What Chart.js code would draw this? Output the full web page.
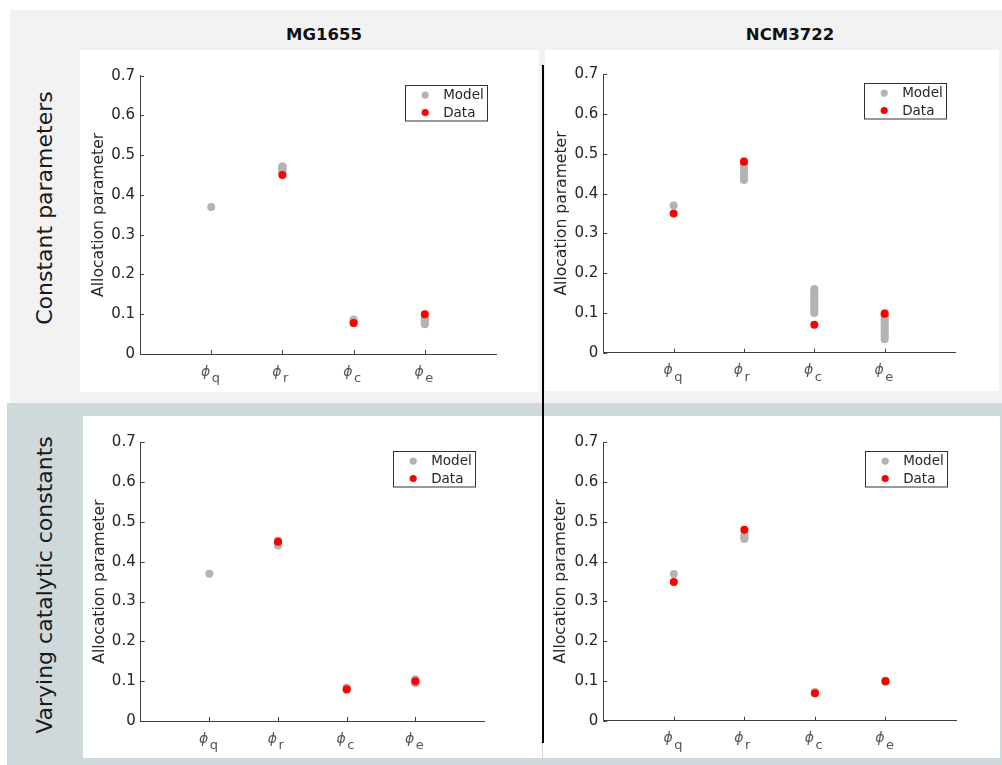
<!DOCTYPE html>
<html>
<head>
<meta charset="utf-8">
<script src="https://cdn.jsdelivr.net/npm/chart.js@4.4.0/dist/chart.umd.min.js"></script>
<style>
  body { margin: 0; width: 1002px; height: 765px; position: relative; overflow: hidden; background: #fff; font-family: 'DejaVu Sans', sans-serif; }
  .abs { position: absolute; }
  .band-top { left: 10px; top: 10px; width: 992px; height: 393px; background: #f2f2f2; }
  .band-bottom { left: 7px; top: 403px; width: 995px; height: 362px; background: #cfd9dc; }
  canvas { position: absolute; background: #fff; }
  .head { width: 200px; text-align: center; font-weight: bold; font-size: 16.5px; line-height: 1; color: #111; }
  .rowlab { width: 400px; height: 30px; line-height: 30px; text-align: center; font-size: 22px; color: #1a1a1a; transform: rotate(-90deg); }
  .divider { left: 541.5px; top: 65px; width: 2px; height: 678px; background: #000; }
</style>
</head>
<body>
<div class="abs band-top"></div>
<div class="abs band-bottom"></div>
<div class="abs head" style="left:224px; top:26.7px;">MG1655</div>
<div class="abs head" style="left:690px; top:26.7px;">NCM3722</div>
<div class="abs rowlab" style="left:-155px; top:193px;">Constant parameters</div>
<div class="abs rowlab" style="left:-155px; top:570px;">Varying catalytic constants</div>
<canvas id="tl" width="459" height="342" style="left:80px; top:50px;"></canvas>
<canvas id="tr" width="454" height="341" style="left:545px; top:50px;"></canvas>
<canvas id="bl" width="459" height="342" style="left:83px; top:416px;"></canvas>
<canvas id="br" width="457" height="342" style="left:543px; top:416px;"></canvas>
<div class="abs divider"></div>
<script>
// categories (phi subscripts) and y ticks
const categories = ['q', 'r', 'c', 'e'];
const yTicks = [0, 0.1, 0.2, 0.3, 0.4, 0.5, 0.6, 0.7];
const yTickLabels = ['0', '0.1', '0.2', '0.3', '0.4', '0.5', '0.6', '0.7'];

// MG1655, constant parameters
const mgConstModel = [
  [0.370],
  [0.458, 0.461, 0.464, 0.467, 0.470, 0.472],
  [0.078, 0.081, 0.084, 0.087],
  [0.075, 0.078, 0.081, 0.084, 0.087, 0.090]
];
const mgConstData = [null, 0.450, 0.078, 0.100];

// NCM3722, constant parameters
const ncmConstModel = [
  [0.370],
  [0.434, 0.440, 0.446, 0.452, 0.458, 0.464, 0.470, 0.476, 0.482],
  [0.100, 0.106, 0.112, 0.118, 0.124, 0.130, 0.136, 0.142, 0.148, 0.154, 0.160],
  [0.034, 0.040, 0.046, 0.052, 0.058, 0.064, 0.070, 0.076, 0.082, 0.088, 0.094, 0.100]
];
const ncmConstData = [0.350, 0.480, 0.070, 0.098];

// MG1655, varying catalytic constants
const mgVarModel = [
  [0.370],
  [0.441, 0.445, 0.449, 0.453],
  [0.078, 0.081, 0.084],
  [0.095, 0.099, 0.102, 0.105]
];
const mgVarData = [null, 0.450, 0.080, 0.100];

// NCM3722, varying catalytic constants
const ncmVarModel = [
  [0.369],
  [0.457, 0.460, 0.463, 0.467],
  [0.070, 0.072],
  [0.098, 0.101]
];
const ncmVarData = [0.349, 0.480, 0.069, 0.099];

const FONT = "'DejaVu Sans', sans-serif";
const AXIS = '#404040';
const TEXT = '#262626';
const MODEL_COLOR = '#b3b3b3';
const DATA_COLOR = '#ff0000';

function modelPoints(model) {
  const pts = [];
  model.forEach((vals, i) => vals.forEach(v => pts.push({ x: i + 1, y: v })));
  return pts;
}

function dataPoints(data) {
  const pts = [];
  data.forEach((v, i) => { if (v !== null) pts.push({ x: i + 1, y: v }); });
  return pts;
}

const decor = {
  id: 'decor',
  afterDraw(chart) {
    const { ctx, chartArea: a, scales: { x, y } } = chart;
    ctx.save();
    ctx.strokeStyle = AXIS;
    ctx.lineWidth = 1;
    // inward ticks
    yTicks.forEach(v => {
      const py = Math.round(y.getPixelForValue(v)) + 0.5;
      ctx.beginPath(); ctx.moveTo(a.left, py); ctx.lineTo(a.left + 4, py); ctx.stroke();
    });
    categories.forEach((c, i) => {
      const px = Math.round(x.getPixelForValue(i + 1)) + 0.5;
      ctx.beginPath(); ctx.moveTo(px, a.bottom); ctx.lineTo(px, a.bottom - 4); ctx.stroke();
    });
    // phi tick labels with subscripts
    ctx.fillStyle = '#555';
    ctx.textBaseline = 'alphabetic';
    categories.forEach((c, i) => {
      const px = x.getPixelForValue(i + 1);
      ctx.font = 'italic 14px ' + FONT;
      ctx.textAlign = 'right';
      ctx.fillText('\u03D5', px - 1, a.bottom + 21.5);
      ctx.font = '13px ' + FONT;
      ctx.textAlign = 'left';
      ctx.fillText(c, px + 0.5, a.bottom + 28);
    });
    // legend box
    const bw = 82, bh = 35.5;
    const bx = Math.round(a.right - 8.7 - bw) + 0.5;
    const by = Math.round(a.top + 9) + 0.5;
    ctx.fillStyle = '#fff';
    ctx.fillRect(bx, by, bw, bh);
    ctx.strokeStyle = '#333';
    ctx.strokeRect(bx, by, bw, bh);
    ctx.font = '13.5px ' + FONT;
    ctx.textAlign = 'left';
    ctx.textBaseline = 'middle';
    chart.data.datasets.forEach((ds, k) => {
      const cy = by + 9.6 + k * 17.4;
      ctx.fillStyle = ds.backgroundColor;
      ctx.beginPath(); ctx.arc(bx + 19.7, cy, 3.6, 0, Math.PI * 2); ctx.fill();
      ctx.fillStyle = TEXT;
      ctx.fillText(ds.label, bx + 37.7, cy + 0.5);
    });
    ctx.restore();
  }
};

function makeChart(id, canvasBox, area, titlePad, model, data) {
  const axisW = area.l - canvasBox.x;
  const axisH = canvasBox.y + canvasBox.h - area.b;
  return new Chart(document.getElementById(id), {
    type: 'scatter',
    data: {
      datasets: [
        { label: 'Model', data: modelPoints(model), backgroundColor: MODEL_COLOR, pointRadius: 4, pointBorderWidth: 0, order: 2, clip: false },
        { label: 'Data', data: dataPoints(data), backgroundColor: DATA_COLOR, pointRadius: 4, pointBorderWidth: 0, order: 1, clip: false }
      ]
    },
    options: {
      responsive: false,
      animation: false,
      devicePixelRatio: 1,
      layout: { padding: { left: 0, top: area.t - canvasBox.y, right: canvasBox.x + canvasBox.w - area.r, bottom: 0 } },
      plugins: { legend: { display: false }, tooltip: { enabled: false } },
      scales: {
        x: {
          type: 'linear', min: 0, max: 5,
          ticks: { display: false },
          grid: { display: false, drawTicks: false },
          border: { display: true, color: AXIS, width: 1 },
          afterFit: s => { s.height = axisH; }
        },
        y: {
          min: 0, max: 0.7,
          afterBuildTicks: s => { s.ticks = yTicks.map(v => ({ value: v })); },
          afterFit: s => { s.width = axisW; },
          ticks: { callback: (v, i) => yTickLabels[i], color: TEXT, font: { family: FONT, size: 15 }, padding: 5 },
          grid: { display: false, drawTicks: false },
          border: { display: true, color: AXIS, width: 1 },
          title: { display: true, text: 'Allocation parameter', color: TEXT, font: { family: FONT, size: 15.6 }, padding: { top: titlePad, bottom: 0 } }
        }
      }
    },
    plugins: [decor]
  });
}

makeChart('tl', { x: 80, y: 50, w: 459, h: 342 }, { l: 140, t: 75.7, r: 496, b: 354 }, 9.6, mgConstModel, mgConstData);
makeChart('tr', { x: 545, y: 50, w: 454, h: 341 }, { l: 603.3, t: 74.3, r: 955, b: 352.7 }, 7.3, ncmConstModel, ncmConstData);
makeChart('bl', { x: 83, y: 416, w: 459, h: 342 }, { l: 140.7, t: 442.3, r: 484, b: 721 }, 7.6, mgVarModel, mgVarData);
makeChart('br', { x: 543, y: 416, w: 457, h: 342 }, { l: 603.3, t: 442.3, r: 956, b: 720.7 }, 8.3, ncmVarModel, ncmVarData);
</script>
</body>
</html>
